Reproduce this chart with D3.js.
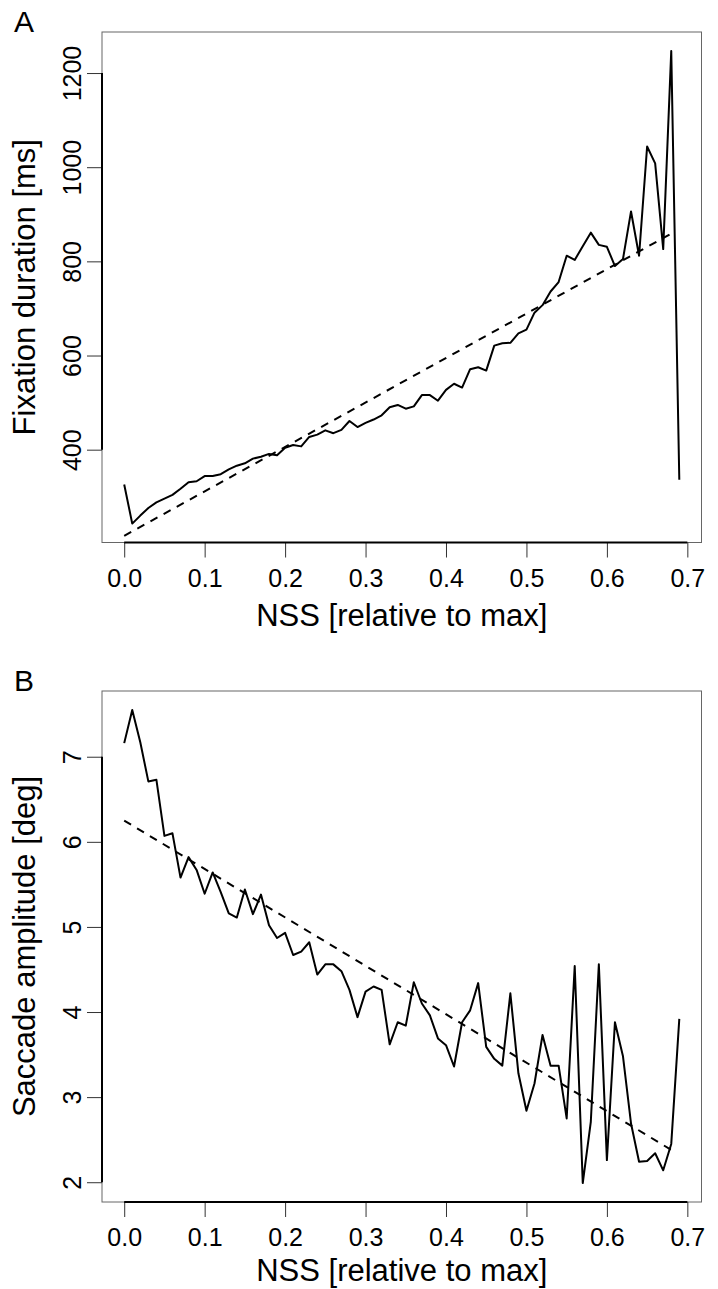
<!DOCTYPE html>
<html>
<head>
<meta charset="utf-8">
<script src="https://cdn.jsdelivr.net/npm/d3@7"></script>
<style>
  body { margin: 0; background: #fff; }
  svg text { font-family: 'Liberation Sans', Arial, Helvetica, sans-serif; }
</style>
</head>
<body>
<div id="chart"></div>
<script>
// NSS bins (relative to max), 0.00 .. 0.69
const nss = [
  0.00, 0.01, 0.02, 0.03, 0.04, 0.05, 0.06, 0.07, 0.08, 0.09,
  0.10, 0.11, 0.12, 0.13, 0.14, 0.15, 0.16, 0.17, 0.18, 0.19,
  0.20, 0.21, 0.22, 0.23, 0.24, 0.25, 0.26, 0.27, 0.28, 0.29,
  0.30, 0.31, 0.32, 0.33, 0.34, 0.35, 0.36, 0.37, 0.38, 0.39,
  0.40, 0.41, 0.42, 0.43, 0.44, 0.45, 0.46, 0.47, 0.48, 0.49,
  0.50, 0.51, 0.52, 0.53, 0.54, 0.55, 0.56, 0.57, 0.58, 0.59,
  0.60, 0.61, 0.62, 0.63, 0.64, 0.65, 0.66, 0.67, 0.68, 0.69
]

// panel A: mean fixation duration [ms]
const fixDuration = [
  326, 243, 260, 276, 288, 296, 304, 317, 331, 333,
  344, 344, 348, 358, 366, 371, 381, 385, 391, 388,
  404, 410, 407, 427, 432, 441, 435, 442, 461, 448,
  457, 464, 473, 490, 495, 487, 492, 516, 516, 504,
  527, 540, 532, 571, 575, 568, 621, 626, 627, 647,
  655, 691, 707, 736, 756, 812, 803, 832, 861, 835,
  831, 790, 805, 906, 812, 1044, 1008, 826, 1247, 336
]

// panel B: mean saccade amplitude [deg]
const saccAmplitude = [
  7.16, 7.55, 7.17, 6.71, 6.73, 6.07, 6.10, 5.58, 5.82, 5.67,
  5.39, 5.64, 5.41, 5.16, 5.11, 5.44, 5.15, 5.38, 5.02, 4.87,
  4.93, 4.67, 4.71, 4.82, 4.44, 4.56, 4.56, 4.48, 4.26, 3.94,
  4.24, 4.30, 4.26, 3.62, 3.88, 3.84, 4.35, 4.10, 3.96, 3.69,
  3.61, 3.36, 3.88, 4.02, 4.34, 3.59, 3.45, 3.37, 4.22, 3.28,
  2.84, 3.16, 3.73, 3.37, 3.37, 2.75, 4.54, 1.99, 2.71, 4.56,
  2.26, 3.88, 3.48, 2.69, 2.24, 2.25, 2.34, 2.14, 2.45, 3.92
]

// linear fits (dashed), endpoints
const fitX = [0, 0.68]
const fitFix = [217, 859]
const fitSacc = [6.25, 2.38]

const xTicks = [0, 0.1, 0.2, 0.3, 0.4, 0.5, 0.6, 0.7]
const yTicksA = [400, 600, 800, 1000, 1200]
const yTicksB = [2, 3, 4, 5, 6, 7]

const width = 718
const height = 1289
const left = 102
const right = 701.5
const FONT = "'Liberation Sans', Arial, Helvetica, sans-serif"

const panels = [
  { letter: 'A', top: 32, bottom: 542.5, values: fixDuration, fit: fitFix,
    ticks: yTicksA, ylab: 'Fixation duration [ms]', titleGap: 83 },
  { letter: 'B', top: 691, bottom: 1202, values: saccAmplitude, fit: fitSacc,
    ticks: yTicksB, ylab: 'Saccade amplitude [deg]', titleGap: 79 }
]

// R-style axis limits: data range padded 4% each side
function rlim(ext) {
  const pad = (ext[1] - ext[0]) * 0.04
  return [ext[0] - pad, ext[1] + pad]
}

const svg = d3
  .select('#chart')
  .append('svg')
  .attr('width', width)
  .attr('height', height)

panels.forEach(drawPanel)

function drawPanel(p) {
  const g = svg.append('g')

  const x = d3
    .scaleLinear()
    .domain(rlim(d3.extent(nss)))
    .range([left, right])

  const y = d3
    .scaleLinear()
    .domain(rlim(d3.extent(p.values)))
    .range([p.bottom, p.top])

  // plot box
  g.append('rect')
    .attr('x', left)
    .attr('y', p.top)
    .attr('width', right - left)
    .attr('height', p.bottom - p.top)
    .attr('fill', 'none')
    .attr('stroke', '#666')
    .attr('stroke-width', 1)

  // x axis
  const xa = g
    .append('g')
    .attr('transform', `translate(0,${p.bottom})`)
    .call(
      d3.axisBottom(x)
        .tickValues(xTicks)
        .tickFormat(d3.format('.1f'))
        .tickSize(15)
    )
  xa.select('.domain').remove()
  xa.selectAll('.tick line').attr('stroke', '#333').attr('stroke-width', 1)
  xa.selectAll('.tick text')
    .attr('y', 44)
    .attr('dy', null)
    .attr('font-size', 25)
    .attr('font-family', FONT)
    .attr('fill', '#000')
  g.append('line')
    .attr('x1', x(xTicks[0]))
    .attr('x2', x(xTicks[xTicks.length - 1]))
    .attr('y1', p.bottom)
    .attr('y2', p.bottom)
    .attr('stroke', '#000')
    .attr('stroke-width', 2)

  // y axis, labels parallel to the axis
  const ya = g
    .append('g')
    .attr('transform', `translate(${left},0)`)
    .call(d3.axisLeft(y).tickValues(p.ticks).tickFormat(d3.format('d')).tickSize(15))
  ya.select('.domain').remove()
  ya.selectAll('.tick line').attr('stroke', '#333').attr('stroke-width', 1)
  ya.selectAll('.tick text')
    .attr('transform', 'rotate(-90)')
    .attr('x', 0)
    .attr('y', -21)
    .attr('dy', null)
    .attr('text-anchor', 'middle')
    .attr('font-size', 25)
    .attr('font-family', FONT)
    .attr('fill', '#000')
  g.append('line')
    .attr('x1', left)
    .attr('x2', left)
    .attr('y1', y(p.ticks[0]))
    .attr('y2', y(p.ticks[p.ticks.length - 1]))
    .attr('stroke', '#000')
    .attr('stroke-width', 2)

  // fitted line (dashed)
  const fitLine = d3
    .line()
    .x((d, i) => x(fitX[i]))
    .y(d => y(d))
  g.append('path')
    .datum(p.fit)
    .attr('d', fitLine)
    .attr('fill', 'none')
    .attr('stroke', '#000')
    .attr('stroke-width', 2)
    .attr('stroke-dasharray', '8,7')

  // data line
  const line = d3
    .line()
    .x((d, i) => x(nss[i]))
    .y(d => y(d))
  g.append('path')
    .datum(p.values)
    .attr('d', line)
    .attr('fill', 'none')
    .attr('stroke', '#000')
    .attr('stroke-width', 2)
    .attr('stroke-linejoin', 'round')

  // axis titles
  g.append('text')
    .text('NSS [relative to max]')
    .attr('x', (left + right) / 2)
    .attr('y', p.bottom + p.titleGap)
    .attr('text-anchor', 'middle')
    .attr('font-size', 31)
    .attr('fill', '#000')

  g.append('text')
    .text(p.ylab)
    .attr('transform', `translate(35,${(p.top + p.bottom) / 2}) rotate(-90)`)
    .attr('text-anchor', 'middle')
    .attr('font-size', 31)
    .attr('fill', '#000')

  // panel letter
  g.append('text')
    .text(p.letter)
    .attr('x', 14)
    .attr('y', p.top - 0.5)
    .attr('font-size', 30)
    .attr('fill', '#000')
}
</script>
</body>
</html>
